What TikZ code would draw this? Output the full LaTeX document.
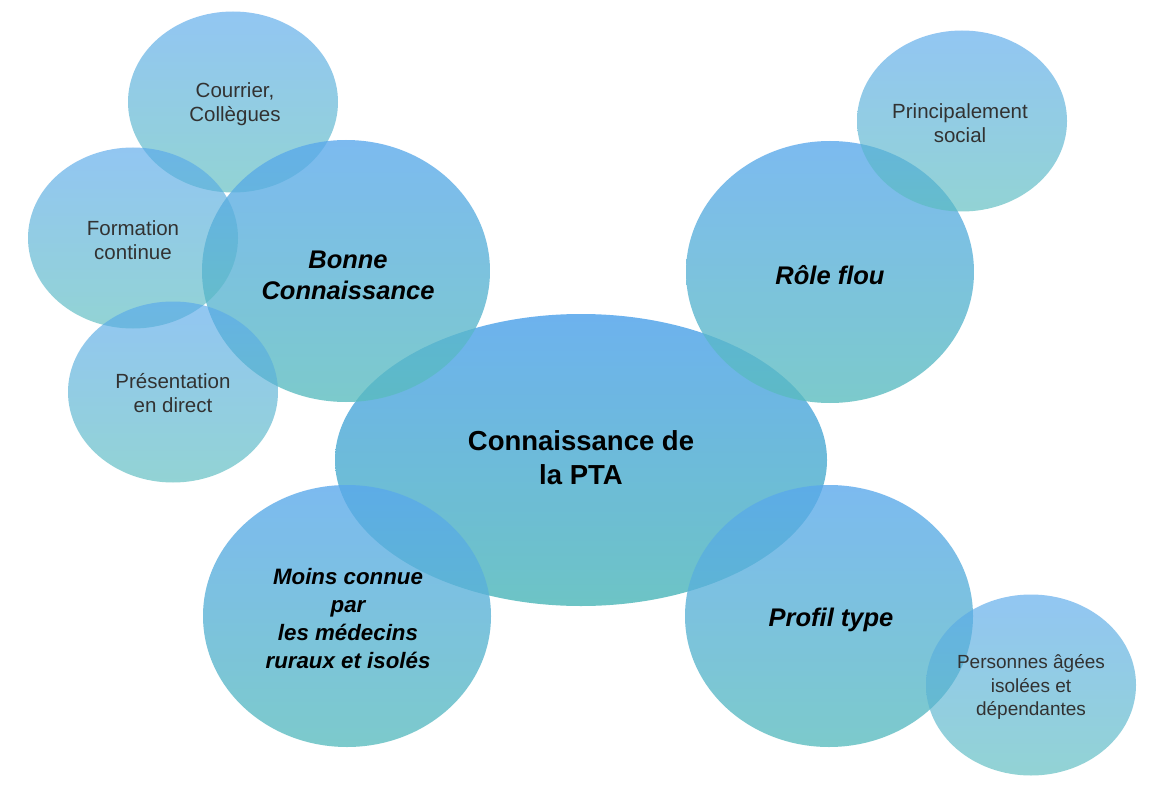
\documentclass[tikz,border=0pt]{standalone}
\usepackage{fontspec}
\setmainfont{Liberation Sans}
\usetikzlibrary{shapes.geometric}
\definecolor{bubtop}{RGB}{89,168,236}
\definecolor{bubbot}{RGB}{89,188,190}
\definecolor{smalltext}{RGB}{50,50,50}
\tikzset{
  bubble/.style={ellipse, inner sep=0pt, draw=none, top color=bubtop, bottom color=bubbot},
  smallbub/.style={bubble, fill opacity=0.65, minimum width=210pt, minimum height=181pt},
  bigbub/.style={bubble, fill opacity=0.785, minimum width=288pt, minimum height=262pt},
  mainbub/.style={bubble, fill opacity=0.88, minimum width=492pt, minimum height=292pt},
  smalllabel/.style={align=center, text=smalltext, inner sep=0pt, font=\fontsize{20.5}{24}\selectfont},
  tinylabel/.style={align=center, text=smalltext, inner sep=0pt, font=\fontsize{19}{23.5}\selectfont},
  biglabel/.style={align=center, text=black, inner sep=0pt, font=\fontsize{25.5}{31}\selectfont\bfseries\itshape},
  midlabel/.style={align=center, text=black, inner sep=0pt, font=\fontsize{22.3}{28}\selectfont\bfseries\itshape},
  mainlabel/.style={align=center, text=black, inner sep=0pt, font=\fontsize{27.5}{34}\selectfont\bfseries},
}
\begin{document}
\begin{tikzpicture}[x=1pt,y=-1pt]
\fill[white] (0,0) rectangle (1172,794);
\useasboundingbox (0,0) rectangle (1172,794);

% bubbles, back to front
\node[mainbub]  (pta)   at (581,460) {};
\node[smallbub] (cour)  at (233,102) {};
\node[bigbub]   (bonne) at (346,271) {};
\node[bigbub]   (role)  at (830,272) {};
\node[bigbub]   (moins) at (347,616) {};
\node[bigbub]   (profil) at (829,616) {};
\node[smallbub] (form)  at (133,238) {};
\node[smallbub] (pres)  at (173,392) {};
\node[smallbub] (princ) at (962,121) {};
\node[smallbub] (pers)  at (1031,685) {};

% labels
\node[mainlabel]  (tpta)   at (581,458) {Connaissance de\\la PTA};
\node[biglabel]   (tbonne) at (348,275) {Bonne\\Connaissance};
\node[biglabel]   (trole)  at (830,275) {Rôle flou};
\node[biglabel]   (tprofil) at (831,620) {Profil type};
\node[midlabel]   (tmoins) at (348,619) {Moins connue\\par\\les médecins\\ruraux et isolés};
\node[smalllabel] (tcour)  at (235,104) {Courrier,\\Collègues};
\node[smalllabel] (tform)  at (133,240) {Formation\\continue};
\node[smalllabel] (tpres)  at (173,393) {Présentation\\en direct};
\node[smalllabel] (tprinc) at (960,123) {Principalement\\social};
\node[tinylabel]  (tpers)  at (1031,687) {Personnes âgées\\isolées et\\dépendantes};
\end{tikzpicture}
\end{document}
